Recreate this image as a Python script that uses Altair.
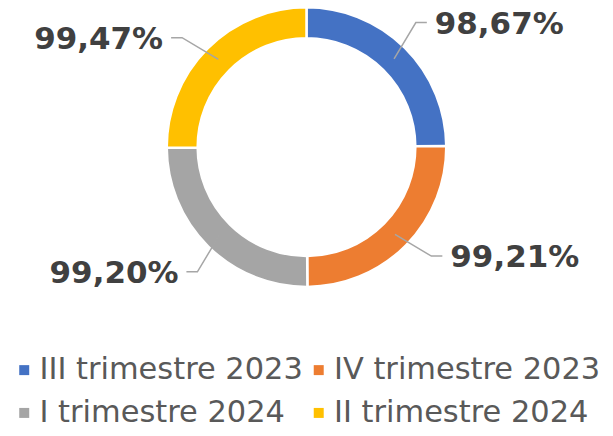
import math
import altair as alt
import pandas as pd

categories = ["III trimestre 2023", "IV trimestre 2023", "I trimestre 2024", "II trimestre 2024"]
values = [98.67, 99.21, 99.20, 99.47]
colors = ["#4472C4", "#ED7D31", "#A5A5A5", "#FFC000"]

W, H = 598, 278
CX, CY = W / 2, H / 2
R_OUT, R_IN = 140, 109
R_START, R_ELBOW, ELBOW_SHIFT = 124.5, 166, -3.5
SEG, GAP = 11, 8

total = sum(values)
arc_rows, line_rows, label_rows = [], [], []
cum = 0.0
for i, (c, v) in enumerate(zip(categories, values)):
    a0 = cum / total * 360
    cum += v
    a1 = cum / total * 360
    mid = (a0 + a1) / 2
    arc_rows.append({"category": c, "value": v, "idx": i})
    sx = R_START * math.sin(math.radians(mid))
    sy = R_START * math.cos(math.radians(mid))
    ea = mid + ELBOW_SHIFT
    ex = R_ELBOW * math.sin(math.radians(ea))
    ey = R_ELBOW * math.cos(math.radians(ea))
    side = "right" if ex > 0 else "left"
    sign = 1 if side == "right" else -1
    hx = ex + sign * SEG
    for step, (px, py) in enumerate([(sx, sy), (ex, ey), (hx, ey)]):
        line_rows.append({"category": c, "step": step, "x": px, "y": py})
    label = f"{v:.2f}".replace(".", ",") + "%"
    label_rows.append({"category": c, "label": label, "x": hx + sign * GAP, "y": ey, "side": side})

arc_df = pd.DataFrame(arc_rows)
line_df = pd.DataFrame(line_rows)
label_df = pd.DataFrame(label_rows)

xs = alt.Scale(domain=[-CX, CX], nice=False, zero=False)
ys = alt.Scale(domain=[-CY, CY], nice=False, zero=False)

arc = alt.Chart(arc_df).mark_arc(
    outerRadius=R_OUT, innerRadius=R_IN, stroke="white", strokeWidth=2.5
).encode(
    theta=alt.Theta("value:Q", stack=True),
    color=alt.Color(
        "category:N",
        scale=alt.Scale(domain=categories, range=colors),
        legend=alt.Legend(
            title=None, orient="none", legendX=1, legendY=347, columns=2,
            direction="horizontal", padding=0,
            symbolType="square", symbolSize=100, symbolStrokeWidth=0,
            labelFontSize=30.5, labelFont="DejaVu Sans", labelColor="#595959",
            labelLimit=400, labelOffset=0, columnPadding=0, rowPadding=12,
        ),
    ),
    order=alt.Order("idx:Q"),
)

lines = alt.Chart(line_df).mark_line(color="#A6A6A6", strokeWidth=1.5).encode(
    x=alt.X("x:Q", scale=xs, axis=None),
    y=alt.Y("y:Q", scale=ys, axis=None),
    detail="category:N",
    order="step:Q",
)

def text_layer(side, align):
    return alt.Chart(label_df).transform_filter(
        alt.datum.side == side
    ).mark_text(
        align=align, baseline="middle", dy=2, font="DejaVu Sans", fontSize=31,
        fontWeight="bold", color="#404040"
    ).encode(
        x=alt.X("x:Q", scale=xs, axis=None),
        y=alt.Y("y:Q", scale=ys, axis=None),
        text="label:N",
    )

chart = alt.layer(arc, lines, text_layer("right", "left"), text_layer("left", "right")).properties(
    width=W, height=H, autosize="none",
    padding={"left": 0, "top": 0, "right": 0, "bottom": 142},
).configure_view(stroke=None)

chart.save("out.html", embed_options={"renderer": "svg", "actions": False})
